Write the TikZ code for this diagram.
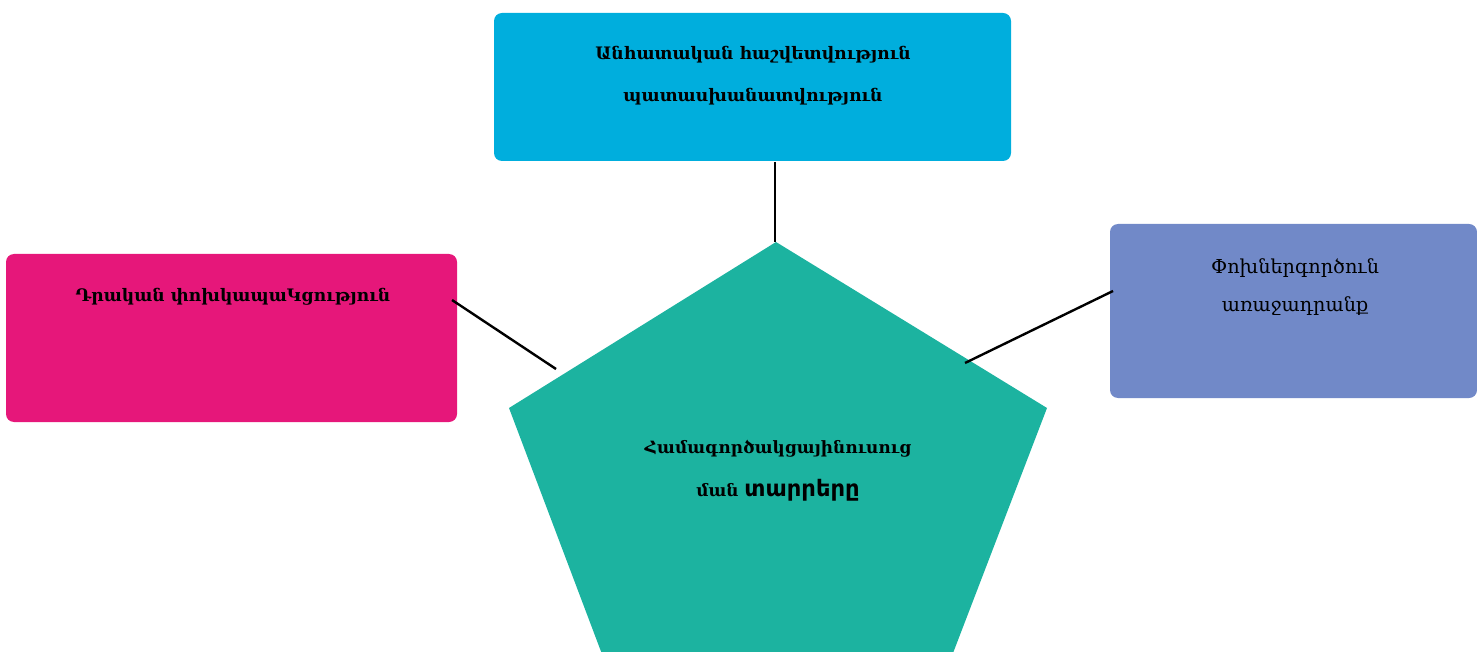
\documentclass[tikz,border=0pt]{standalone}
\usepackage{fontspec}
\newfontfamily\armserif{DejaVu Serif}
\newfontfamily\armsans{DejaVu Sans}
\definecolor{cblue}{HTML}{00AEDD}
\definecolor{cmag}{HTML}{E6177A}
\definecolor{cviolet}{HTML}{7189C8}
\definecolor{cteal}{HTML}{1CB3A0}
\begin{document}
\begin{tikzpicture}[x=0.75pt,y=-0.75pt,
  box/.style={rounded corners=6pt,draw=none},
  lbl/.style={align=center,inner sep=0pt},
  conn/.style={draw=black,line width=1.8pt}]
\useasboundingbox (0,0) rectangle (1477,652);
\begin{scope}
\clip (0,0) rectangle (1477,652);
% boxes
\path[box,fill=cblue] (494,13) rectangle (1011,161);
\path[box,fill=cmag] (6,254) rectangle (457,422);
\path[box,fill=cviolet] (1110,224) rectangle (1477,398);
% pentagon
\fill[cteal] (776,242) -- (1047,408) -- (912,760) -- (642,760) -- (509,408) -- cycle;
\end{scope}
% connector ends
\coordinate (tA) at (775,162);
\coordinate (tB) at (775,242);
\coordinate (lA) at (452,300);
\coordinate (lB) at (556,369);
\coordinate (rA) at (1113,291);
\coordinate (rB) at (965,363);
\draw[conn] (tA) -- (tB);
\draw[conn] (lA) -- (lB);
\draw[conn] (rA) -- (rB);
% texts
\node[lbl,font=\armserif\bfseries\fontsize{12.9}{31.5}\selectfont] (top) at (753,76)
  {Անհատական հաշվետվություն\\պատասխանատվություն};
\node[lbl,font=\armserif\bfseries\fontsize{12.9}{20}\selectfont] (left) at (233,297)
  {Դրական փոխկապաԿցություն};
\node[lbl,font=\armserif\fontsize{14.4}{29}\selectfont] (right) at (1295,287)
  {Փոխներգործուն\\առաջադրանք};
\node[lbl,font=\armserif\bfseries\fontsize{12.7}{32}\selectfont] (center) at (778,471)
  {Համագործակցայինուսուց\\ման {\armsans\bfseries\fontsize{17}{20}\selectfont տարրերը}};
\end{tikzpicture}
\end{document}
